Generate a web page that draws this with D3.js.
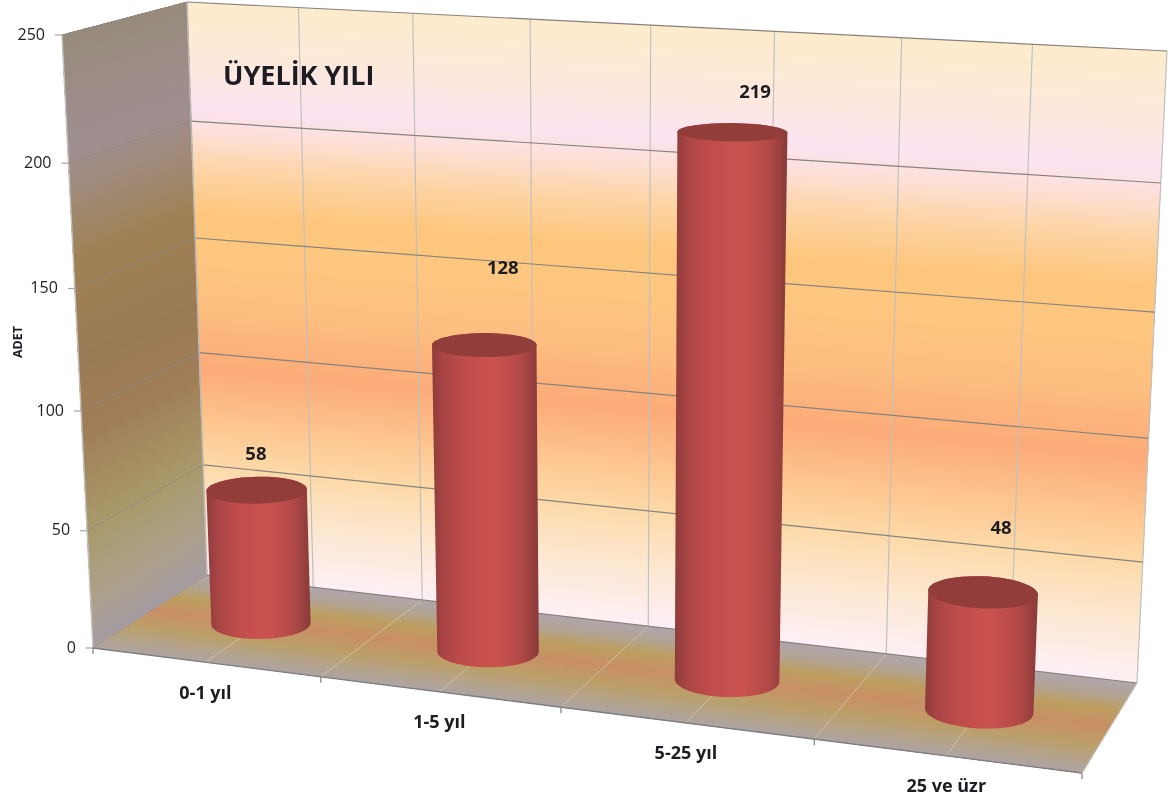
<!DOCTYPE html>
<html>
<head>
<meta charset="utf-8">
<script src="https://cdn.jsdelivr.net/npm/d3@7"></script>
<style>
html, body { margin: 0; padding: 0; background: #fff; }
svg { display: block; }
text { font-family: "Open Sans", "Noto Sans", sans-serif; fill: #1c1c24; }
</style>
</head>
<body>
<div id="chart"></div>
<script>
var categories = ['0-1 yıl', '1-5 yıl', '5-25 yıl', '25 ve üzr'];
var values = [58, 128, 219, 48];
var valueTicks = [0, 50, 100, 150, 200, 250];
var title = 'ÜYELİK YILI';
var yTitle = 'ADET';

// hand placed label shifts, the labels in the picture do not sit on a fixed offset
var labelShift = [[1, -38], [20, -78], [24, -41], [19, -66]];

// gradient stops, by value on the walls and by depth on the floor
var wallStops = [[250, '#fdeccb'], [225, '#fde9dc'], [205, '#fce4f2'], [195, '#fde0d8'], [180, '#fdd5a8'], [160, '#fdc67c'], [145, '#fdc780'], [120, '#fdbf80'], [92, '#fcab78'], [70, '#fdc48e'], [50, '#fdd9a8'], [25, '#fde8d2'], [0, '#fdeff5']];
var sideStops = [[250, '#978b7b'], [205, '#a08f92'], [160, '#9f8253'], [120, '#9b7a56'], [90, '#a07e58'], [50, '#a99a6b'], [20, '#aca08c'], [0, '#a59ca2']];
var floorStops = [[0, '#b0a7ac'], [0.14, '#b2a496'], [0.3, '#bd9f62'], [0.48, '#c99066'], [0.68, '#bd9f68'], [0.85, '#b4a48a'], [1, '#aea4a4']];

var W = 1174, H = 804;

// frame corners of the 3d box
var backQuad = [[207, 575], [1137, 683], [1167, 51], [187, 2]];
var frontQuad = [[93, 648], [1082, 773], [1111, 94], [62, 35]];

function homography(q){
	var x0 = q[0][0], y0 = q[0][1], x1 = q[1][0], y1 = q[1][1], x2 = q[2][0], y2 = q[2][1], x3 = q[3][0], y3 = q[3][1]
		, dx1 = x1 - x2, dx2 = x3 - x2, sx = x0 - x1 + x2 - x3
		, dy1 = y1 - y2, dy2 = y3 - y2, sy = y0 - y1 + y2 - y3
		, den = dx1 * dy2 - dx2 * dy1
		, g = (sx * dy2 - dx2 * sy) / den
		, h = (dx1 * sy - sx * dy1) / den
		, a = x1 - x0 + g * x1, b = x3 - x0 + h * x3
		, d = y1 - y0 + g * y1, e = y3 - y0 + h * y3
		;
	return function(u, t){
		var k = g * u + h * t + 1;
		return [(a * u + b * t + x0) / k, (d * u + e * t + y0) / k];
	};
}

var backH = homography(backQuad), frontH = homography(frontQuad);

var xBand = d3.scaleBand().domain(categories).range([0, 1]);
var yScale = d3.scaleLinear().domain([0, 250]).range([0, 1]);
var zScale = d3.scaleLinear().domain([0, 1]).range([0, 1]);

// u across, v is a chart value, w 0 at back wall and 1 at the front
function project(u, v, w){
	var b = backH(u, yScale(v)), f = frontH(u, yScale(v)), k = zScale(w);
	return [b[0] + (f[0] - b[0]) * k, b[1] + (f[1] - b[1]) * k];
}
function pts(list){
	return list.map(function(p){ return p[0].toFixed(1) + ',' + p[1].toFixed(1); }).join(' ');
}
function colorScale(stops){
	return d3.scaleLinear().domain(stops.map(function(s){ return s[0]; })).range(stops.map(function(s){ return s[1]; }));
}

var svg = d3.select('#chart').append('svg').attr('width', W).attr('height', H);
var defs = svg.append('defs');

defs.append('filter').attr('id', 'soft').attr('x', '-5%').attr('y', '-5%').attr('width', '110%').attr('height', '110%')
	.append('feGaussianBlur').attr('stdDeviation', 0.55);

var grad = defs.append('linearGradient').attr('id', 'cyl').attr('x1', 0).attr('x2', 1).attr('y1', 0).attr('y2', 0);
[[0, '#8d3c3b'], [0.1, '#a84444'], [0.3, '#bf4d4b'], [0.58, '#cb5350'], [0.8, '#b64b49'], [0.93, '#9b4140'], [1, '#873938']].forEach(function(s){
	grad.append('stop').attr('offset', s[0]).attr('stop-color', s[1]);
});

var root = svg.append('g').attr('filter', 'url(#soft)');

// walls and floor are painted as overlapping strips, each one runs to the far edge so no seams show
var stepV = d3.range(0, 250, 1), stepW = d3.range(0, 1, 0.005);
var wallColor = colorScale(wallStops), sideColor = colorScale(sideStops), floorColor = colorScale(floorStops);

root.append('g').selectAll('polygon').data(stepV).enter().append('polygon')
	.attr('points', function(v){ return pts([project(0, v, 0), project(1, v, 0), project(1, 250, 0), project(0, 250, 0)]); })
	.attr('fill', function(v){ return wallColor(v); });

root.append('g').selectAll('polygon').data(stepV).enter().append('polygon')
	.attr('points', function(v){ return pts([project(0, v, 0), project(0, v, 1), project(0, 250, 1), project(0, 250, 0)]); })
	.attr('fill', function(v){ return sideColor(v); });

root.append('g').selectAll('polygon').data(stepW).enter().append('polygon')
	.attr('points', function(w){ return pts([project(0, 0, w), project(1, 0, w), project(1, 0, 1), project(0, 0, 1)]); })
	.attr('fill', function(w){ return floorColor(w); });

// grid
var edges = d3.range(0, 9).map(function(i){ return i / 8; });
function seg(g, a, b, color, width){
	g.append('line').attr('x1', a[0]).attr('y1', a[1]).attr('x2', b[0]).attr('y2', b[1]).attr('stroke', color).attr('stroke-width', width);
}
var grid = root.append('g');
edges.forEach(function(u){
	seg(grid, project(u, 0, 0), project(u, 250, 0), '#c2c0bd', 1.2);
	seg(grid, project(u, 0, 0), project(u, 0, 1), '#cfc0a2', 1);
});
valueTicks.forEach(function(v){
	seg(grid, project(0, v, 0), project(1, v, 0), '#88827c', 1.2);
	seg(grid, project(0, v, 0), project(0, v, 1), '#938682', 0.9);
});
// front edges
seg(grid, project(0, 0, 0), project(0, 250, 0), '#bdbab6', 1.2);
seg(grid, project(0, 0, 1), project(0, 250, 1), '#c4c2c0', 1.4);
seg(grid, project(0, 0, 1), project(1, 0, 1), '#7f7f83', 1.4);
seg(grid, project(1, 0, 0), project(1, 0, 1), '#c4c2c0', 1);

// axis ticks
d3.range(0, 5).forEach(function(i){
	var p = project(i / 4, 0, 1);
	seg(grid, p, [p[0], p[1] + 6], '#7f7f83', 1.2);
});
valueTicks.forEach(function(v){
	var p = project(0, v, 1);
	seg(grid, p, [p[0] - 7, p[1]], '#a3a3a3', 1.2);
});

// cylinders
var radU = 0.051, radW = 0.19, midW = 0.485, angles = d3.range(0, 360, 6).map(function(a){ return a * Math.PI / 180; });
function circle(c, v){
	return angles.map(function(a){
		return project(c + radU * Math.cos(a), v, midW + radW * Math.sin(a));
	});
}
var bars = root.append('g').selectAll('g').data(categories).enter().append('g');
bars.append('polygon').attr('fill', 'url(#cyl)').attr('points', function(d, i){
	var c = xBand(d) + xBand.bandwidth() / 2;
	return pts(d3.polygonHull(circle(c, 0).concat(circle(c, values[i]))));
});
bars.append('polygon').attr('fill', '#933c3b').attr('points', function(d, i){
	return pts(circle(xBand(d) + xBand.bandwidth() / 2, values[i]));
});

// text
var texts = svg.append('g').attr('filter', 'url(#soft)');
texts.selectAll('.tick').data(valueTicks).enter().append('text').attr('class', 'tick')
	.attr('x', function(v){ return project(0, v, 1)[0] - 17; })
	.attr('y', function(v){ return project(0, v, 1)[1] - 1; })
	.attr('dy', '0.35em').attr('text-anchor', 'end').attr('font-size', 16).text(function(v){ return v; });

texts.selectAll('.cat').data(categories).enter().append('text').attr('class', 'cat')
	.attr('x', function(d){ return project(xBand(d) + xBand.bandwidth() / 2, 0, 1)[0]; })
	.attr('y', function(d){ return project(xBand(d) + xBand.bandwidth() / 2, 0, 1)[1] + 30; })
	.attr('dy', '0.35em').attr('text-anchor', 'middle').attr('font-size', 18).attr('font-weight', 700).text(function(d){ return d; });

texts.selectAll('.val').data(values).enter().append('text').attr('class', 'val')
	.attr('x', function(v, i){ return project(xBand(categories[i]) + xBand.bandwidth() / 2, v, 0.5)[0] + labelShift[i][0]; })
	.attr('y', function(v, i){ return project(xBand(categories[i]) + xBand.bandwidth() / 2, v, 0.5)[1] + labelShift[i][1]; })
	.attr('dy', '0.35em').attr('text-anchor', 'middle').attr('font-size', 18.5).attr('font-weight', 700).text(function(v){ return v; });

texts.append('text').attr('x', 223).attr('y', 85).attr('font-size', 27).attr('font-weight', 700).text(title);
texts.append('text').attr('transform', 'translate(22,342) rotate(-90)').attr('text-anchor', 'middle')
	.attr('font-size', 12.5).attr('font-weight', 700).text(yTitle);
</script>
</body>
</html>
